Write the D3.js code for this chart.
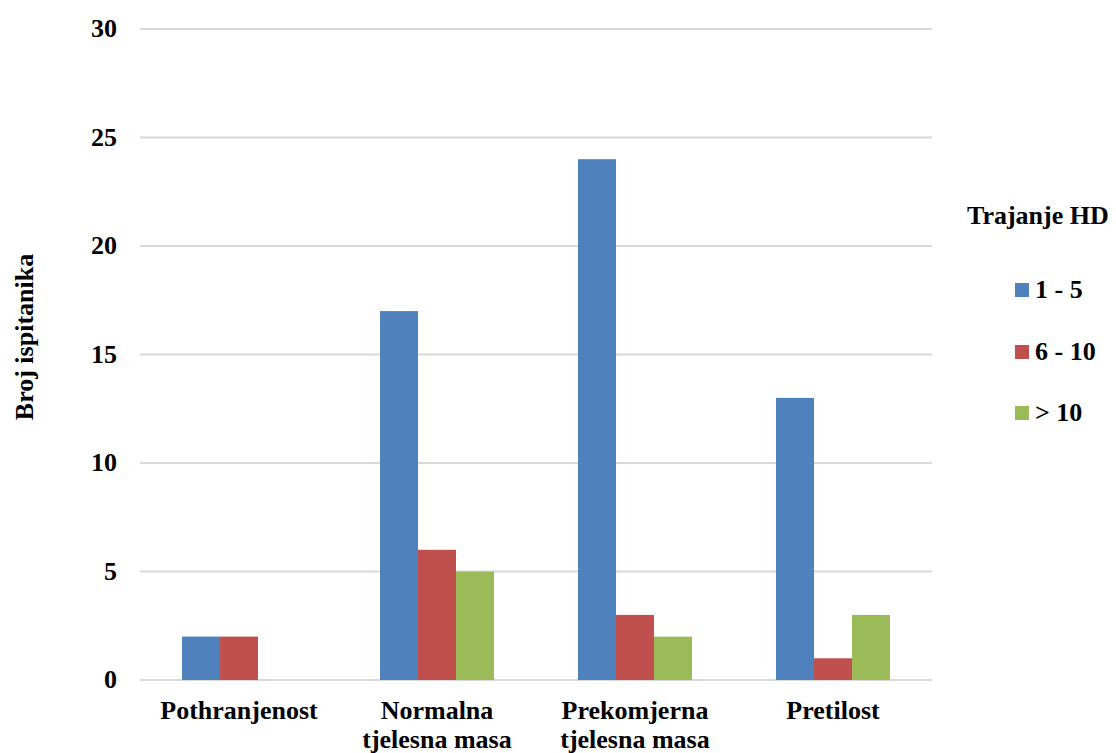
<!DOCTYPE html>
<html>
<script src="https://d3js.org/d3.v7.min.js"></script>
<style>
    body { margin: 0; background: #fff; }
</style>
<body>
</body>
<script>
    const categories = [["Pothranjenost"], ["Normalna", "tjelesna masa"], ["Prekomjerna", "tjelesna masa"], ["Pretilost"]];
    const seriesNames = ["1 - 5", "6 - 10", "> 10"];
    const seriesValues = [
        [2, 17, 24, 13],
        [2, 6, 3, 1],
        [0, 5, 2, 3]
    ];
    const yTicks = [0, 5, 10, 15, 20, 25, 30];
    const colors = ["#4F81BD", "#C0504D", "#9BBB59"];

    const width = 1116, height = 753;
    const plotL = 140, plotR = 932, plotT = 29, plotB = 680;
    const svg = d3.select("body").append("svg").attr("width", width).attr("height", height)
        .attr("font-family", "'Liberation Serif', 'Times New Roman', Times, serif")
        .attr("font-weight", "bold");

    const catKeys = categories.map(c => c.join(" "));
    const x = d3.scaleBand().domain(catKeys).range([plotL, plotR]).paddingInner(0).paddingOuter(0);
    const groupW = 114;
    const xs = d3.scaleBand().domain(seriesNames).range([0, groupW]);
    const y = d3.scaleLinear().domain([0, 30]).range([plotB, plotT]);

    // gridlines
    svg.append("g").selectAll("line").data(yTicks).join("line")
        .attr("x1", plotL).attr("x2", plotR)
        .attr("y1", d => y(d)).attr("y2", d => y(d))
        .attr("stroke", "#d9d9d9").attr("stroke-width", 2);

    // y tick labels
    svg.append("g").selectAll("text").data(yTicks).join("text")
        .attr("x", 117).attr("y", d => y(d) + 8)
        .attr("text-anchor", "end").attr("font-size", 26)
        .text(d => d);

    // bars
    seriesNames.forEach((s, i) => {
        svg.append("g").selectAll("rect").data(seriesValues[i]).join("rect")
            .attr("x", (d, j) => x(catKeys[j]) + (x.bandwidth() - groupW) / 2 + xs(s))
            .attr("y", d => y(d))
            .attr("width", xs.bandwidth())
            .attr("height", d => y(0) - y(d))
            .attr("fill", colors[i]);
    });

    // category labels
    const cat = svg.append("g").selectAll("text").data(categories).join("text")
        .attr("text-anchor", "middle").attr("font-size", 26)
        .attr("x", (d, j) => x(catKeys[j]) + x.bandwidth() / 2)
        .attr("y", 719);
    cat.selectAll("tspan").data(d => d).join("tspan")
        .attr("x", function () { return d3.select(this.parentNode).attr("x"); })
        .attr("dy", (d, k) => k === 0 ? 0 : 29)
        .text(d => d);

    // y axis title
    svg.append("text")
        .attr("transform", "translate(33,337) rotate(-90)")
        .attr("text-anchor", "middle").attr("font-size", 26)
        .text("Broj ispitanika");

    // legend
    svg.append("text").attr("x", 967).attr("y", 224).attr("font-size", 26).text("Trajanje HD");
    const legY = [290, 352, 413];
    const leg = svg.append("g").selectAll("g").data(seriesNames).join("g")
        .attr("transform", (d, i) => `translate(1015,${legY[i]})`);
    leg.append("rect").attr("x", 0).attr("y", -7).attr("width", 14).attr("height", 14)
        .attr("fill", (d, i) => colors[i]);
    leg.append("text").attr("x", 20).attr("y", 8).attr("font-size", 26).text(d => d);
</script>
</html>
